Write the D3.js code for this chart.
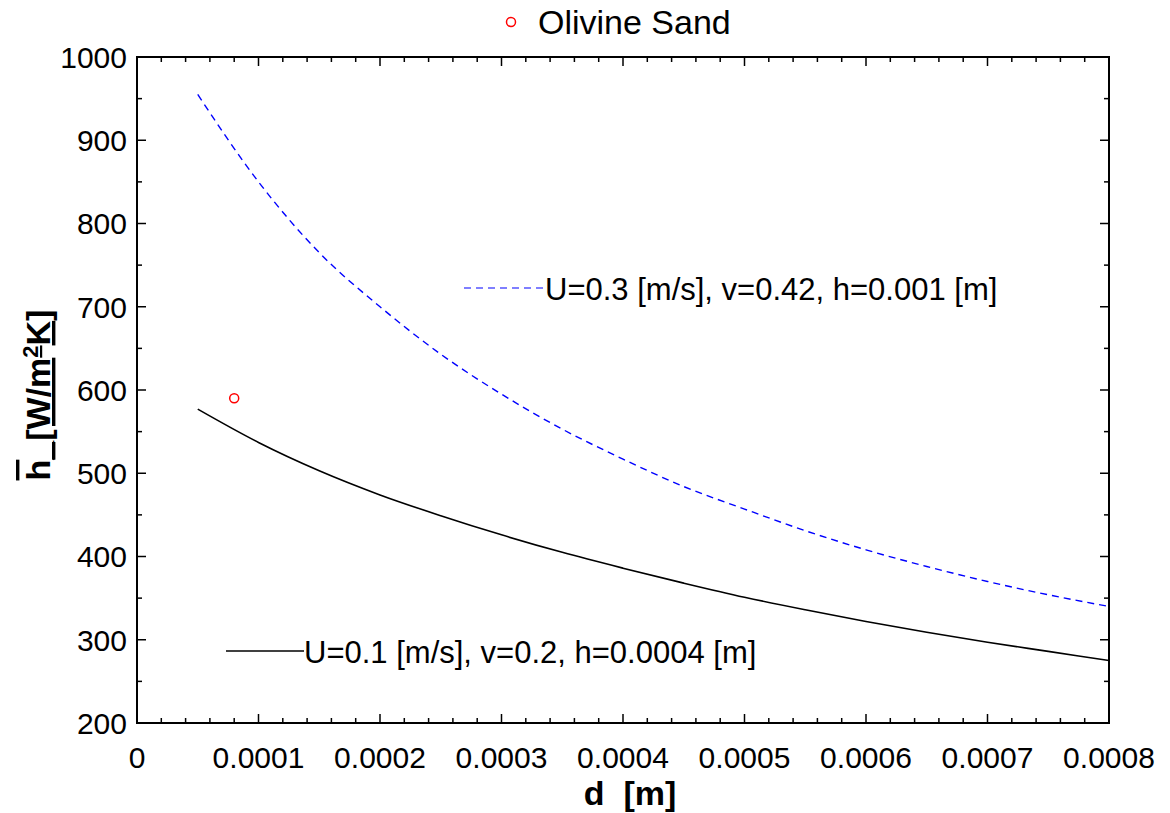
<!DOCTYPE html>
<html>
<head>
<meta charset="utf-8">
<script src="https://cdn.jsdelivr.net/npm/d3@7"></script>
<style>
  body { margin: 0; background: #fff; }
  text { font-family: "Liberation Sans", Arial, sans-serif; }
</style>
</head>
<body>
<div id="chart"></div>
<script>
// 数据
const d_vals = [0.00005, 0.0001, 0.00015, 0.0002, 0.00025, 0.0003, 0.00035, 0.0004,
                0.00045, 0.0005, 0.00055, 0.0006, 0.00065, 0.0007, 0.00075, 0.0008]
const h_slow = [577, 537, 503, 474, 449, 426, 405, 386, 368, 351, 336, 322, 309, 297, 286, 275]
const h_fast = [955, 850, 765, 700, 643, 595, 553, 517, 484, 457, 431, 408, 388, 370, 354, 340]
const olivine_d = [0.00008]
const olivine_h = [590]
const x_ticks = [0, 0.0001, 0.0002, 0.0003, 0.0004, 0.0005, 0.0006, 0.0007, 0.0008]
const y_ticks = [200, 300, 400, 500, 600, 700, 800, 900, 1000]
const label_slow = 'U=0.1 [m/s], v=0.2, h=0.0004 [m]'
const label_fast = 'U=0.3 [m/s], v=0.42, h=0.001 [m]'
const label_point = 'Olivine Sand'

// 画布
const width = 1170
const height = 813
const margin = {top: 57, left: 137, bottom: 90, right: 61}
const svg = d3.select('#chart').append('svg').attr('width', width).attr('height', height)

const xScale = d3.scaleLinear().domain([0, 0.0008]).range([margin.left, width - margin.right])
const yScale = d3.scaleLinear().domain([200, 1000]).range([height - margin.bottom, margin.top])
const x0 = xScale.range()[0], x1 = xScale.range()[1]
const y0 = yScale.range()[0], y1 = yScale.range()[1]

// 刻度 (inward, major + minor)
const x_minor = d3.range(0, 0.0008 + 1e-9, 0.00002)
const y_minor = d3.range(200, 1001, 50)
const tg = svg.append('g').attr('stroke', 'black').attr('stroke-width', 1.5)
x_minor.forEach((v, i) => {
  const len = i % 5 === 0 ? 9 : 5
  const x = xScale(v)
  tg.append('line').attr('x1', x).attr('x2', x).attr('y1', y0).attr('y2', y0 - len)
  tg.append('line').attr('x1', x).attr('x2', x).attr('y1', y1).attr('y2', y1 + len)
})
y_minor.forEach((v, i) => {
  const len = i % 2 === 0 ? 9 : 5
  const y = yScale(v)
  tg.append('line').attr('x1', x0).attr('x2', x0 + len).attr('y1', y).attr('y2', y)
  tg.append('line').attr('x1', x1).attr('x2', x1 - len).attr('y1', y).attr('y2', y)
})

// 边框
svg.append('rect').attr('x', x0).attr('y', y1).attr('width', x1 - x0).attr('height', y0 - y1)
  .attr('fill', 'none').attr('stroke', 'black').attr('stroke-width', 2)

// 刻度文字
svg.selectAll('.xt').data(x_ticks).enter().append('text')
  .attr('x', d => xScale(d)).attr('y', y0 + 45).attr('text-anchor', 'middle')
  .attr('font-size', 30).text(d => d === 0 ? '0' : d3.format('.4f')(d))
svg.selectAll('.yt').data(y_ticks).enter().append('text')
  .attr('x', x0 - 10).attr('y', d => yScale(d)).attr('dy', '0.36em').attr('text-anchor', 'end')
  .attr('font-size', 30).text(d => d)

// 曲线
const line = d3.line().x(d => xScale(d[0])).y(d => yScale(d[1])).curve(d3.curveMonotoneX)
svg.append('path').attr('d', line(d3.zip(d_vals, h_slow)))
  .attr('fill', 'none').attr('stroke', 'black').attr('stroke-width', 1.6)
svg.append('path').attr('d', line(d3.zip(d_vals, h_fast)))
  .attr('fill', 'none').attr('stroke', '#0000ff').attr('stroke-width', 1.4).attr('stroke-dasharray', '7,5')

// 点
svg.selectAll('.pt').data(d3.zip(olivine_d, olivine_h)).enter().append('circle')
  .attr('cx', d => xScale(d[0])).attr('cy', d => yScale(d[1])).attr('r', 4.5)
  .attr('fill', 'none').attr('stroke', 'red').attr('stroke-width', 1.5)

// 图例
svg.append('circle').attr('cx', 511).attr('cy', 22).attr('r', 4.5)
  .attr('fill', 'none').attr('stroke', 'red').attr('stroke-width', 1.5)
svg.append('text').attr('x', 538).attr('y', 34).attr('font-size', 34).text(label_point)

svg.append('line').attr('x1', 464).attr('x2', 543).attr('y1', 288).attr('y2', 288)
  .attr('stroke', '#0000ff').attr('stroke-width', 1.2).attr('stroke-dasharray', '7,5')
svg.append('text').attr('x', 545).attr('y', 300).attr('font-size', 31).text(label_fast)

svg.append('line').attr('x1', 226).attr('x2', 304).attr('y1', 651).attr('y2', 651)
  .attr('stroke', 'black').attr('stroke-width', 1.5)
svg.append('text').attr('x', 304).attr('y', 663).attr('font-size', 31).text(label_slow)

// 轴标题
svg.append('text').attr('x', 630).attr('y', 805).attr('text-anchor', 'middle')
  .attr('font-size', 34).attr('font-weight', 'bold').attr('xml:space', 'preserve').text('d  [m]')

const yl = svg.append('text').attr('transform', 'translate(50,395) rotate(-90)')
  .attr('text-anchor', 'middle').attr('font-size', 34).attr('font-weight', 'bold')
yl.append('tspan').attr('text-decoration', 'overline').text('h')
yl.append('tspan').attr('text-decoration', 'underline').text('_[W/m')
yl.append('tspan').attr('font-size', 22).attr('dy', -12).attr('text-decoration', 'underline').text('2')
yl.append('tspan').attr('dy', 12).attr('text-decoration', 'underline').text('K')
yl.append('tspan').text(']')
</script>
</body>
</html>
